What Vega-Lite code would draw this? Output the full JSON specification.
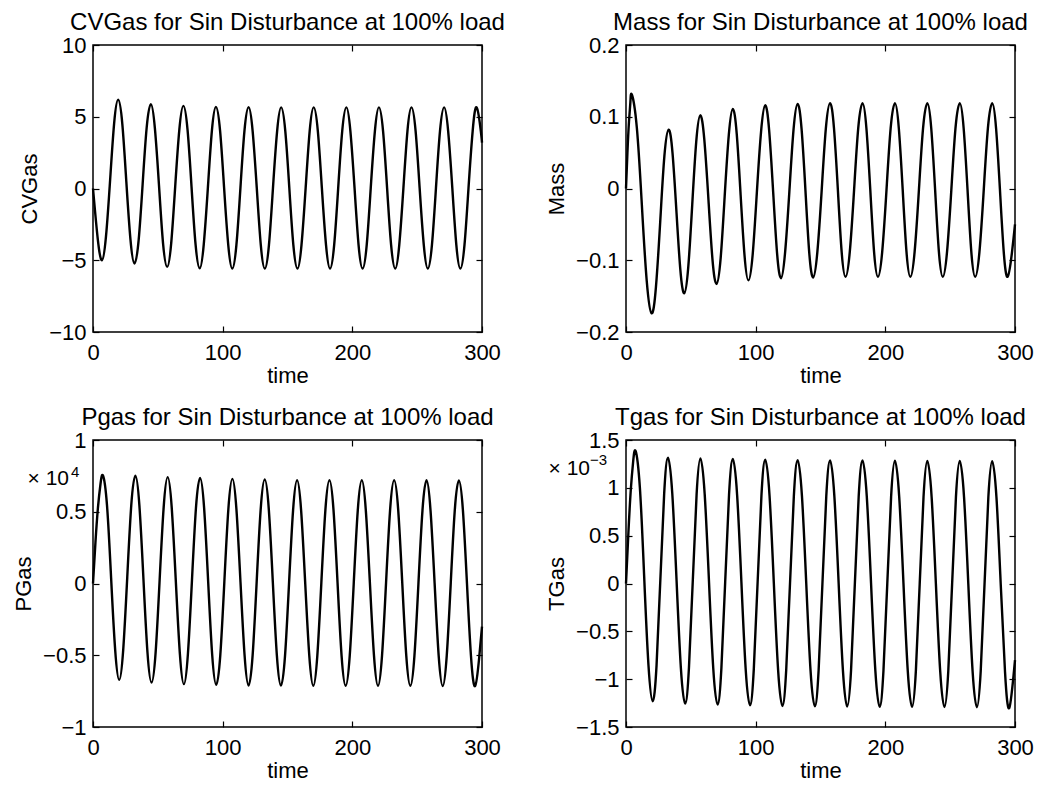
{
  "$schema": "https://vega.github.io/schema/vega-lite/v6.json",
  "background": "white",
  "autosize": {"type": "pad"},
  "padding": {"left": 11, "top": 10, "right": 5, "bottom": 3},
  "config": {
    "font": "Liberation Sans",
    "view": {"stroke": "black", "strokeWidth": 1.5},
    "axis": {"domain": false, "grid": false, "tickColor": "black", "tickSize": -6, "tickWidth": 1.2, "labelColor": "black", "labelFont": "Liberation Sans", "labelFontSize": 22, "labelFlush": false, "titleFont": "Liberation Sans", "titleFontSize": 22, "titleFontWeight": "normal", "titleColor": "black"},
    "axisBottom": {"labelPadding": 16, "titlePadding": 2},
    "axisLeft": {"labelPadding": 13, "titlePadding": 7},
    "title": {"font": "Liberation Sans", "fontSize": 24, "fontWeight": "normal", "color": "black", "offset": -1, "anchor": "middle"},
    "line": {"color": "black", "strokeWidth": 2.4, "interpolate": "natural"}
  },
  "datasets": {
    "cvgas": [{"t":0,"v":0},{"t":3.7,"v":-3.54},{"t":6.9,"v":-5.0},{"t":10.0,"v":-3.36},{"t":13.2,"v":0.59},{"t":16.3,"v":4.54},{"t":19.4,"v":6.18},{"t":22.6,"v":4.51},{"t":25.7,"v":0.48},{"t":28.9,"v":-3.56},{"t":32.0,"v":-5.23},{"t":35.2,"v":-3.60},{"t":38.3,"v":0.33},{"t":41.4,"v":4.25},{"t":44.6,"v":5.88},{"t":47.7,"v":4.22},{"t":50.9,"v":0.21},{"t":54.0,"v":-3.80},{"t":57.2,"v":-5.46},{"t":60.3,"v":-3.82},{"t":63.4,"v":0.15},{"t":66.6,"v":4.12},{"t":69.7,"v":5.76},{"t":72.9,"v":4.10},{"t":76.0,"v":0.10},{"t":79.1,"v":-3.90},{"t":82.3,"v":-5.56},{"t":85.4,"v":-3.91},{"t":88.6,"v":0.06},{"t":91.7,"v":4.03},{"t":94.8,"v":5.68},{"t":98.0,"v":4.03},{"t":101.1,"v":0.05},{"t":104.3,"v":-3.93},{"t":107.4,"v":-5.58},{"t":110.6,"v":-3.93},{"t":113.7,"v":0.04},{"t":116.8,"v":4.01},{"t":120.0,"v":5.66},{"t":123.1,"v":4.01},{"t":126.3,"v":0.04},{"t":129.4,"v":-3.93},{"t":132.5,"v":-5.58},{"t":135.7,"v":-3.93},{"t":138.8,"v":0.04},{"t":142.0,"v":4.0},{"t":145.1,"v":5.65},{"t":148.3,"v":4.0},{"t":151.4,"v":0.04},{"t":154.5,"v":-3.93},{"t":157.7,"v":-5.58},{"t":160.8,"v":-3.93},{"t":164.0,"v":0.04},{"t":167.1,"v":4.0},{"t":170.2,"v":5.65},{"t":173.4,"v":4.0},{"t":176.5,"v":0.04},{"t":179.7,"v":-3.93},{"t":182.8,"v":-5.58},{"t":186.0,"v":-3.93},{"t":189.1,"v":0.04},{"t":192.2,"v":4.0},{"t":195.4,"v":5.65},{"t":198.5,"v":4.0},{"t":201.7,"v":0.04},{"t":204.8,"v":-3.93},{"t":207.9,"v":-5.58},{"t":211.1,"v":-3.93},{"t":214.2,"v":0.04},{"t":217.4,"v":4.0},{"t":220.5,"v":5.65},{"t":223.7,"v":4.0},{"t":226.8,"v":0.04},{"t":229.9,"v":-3.93},{"t":233.1,"v":-5.58},{"t":236.2,"v":-3.93},{"t":239.4,"v":0.04},{"t":242.5,"v":4.0},{"t":245.6,"v":5.65},{"t":248.8,"v":4.0},{"t":251.9,"v":0.04},{"t":255.1,"v":-3.93},{"t":258.2,"v":-5.58},{"t":261.4,"v":-3.93},{"t":264.5,"v":0.04},{"t":267.6,"v":4.0},{"t":270.8,"v":5.65},{"t":273.9,"v":4.0},{"t":277.1,"v":0.04},{"t":280.2,"v":-3.93},{"t":283.3,"v":-5.58},{"t":286.5,"v":-3.93},{"t":289.6,"v":0.04},{"t":292.8,"v":4.0},{"t":295.9,"v":5.65},{"t":299.1,"v":4.0},{"t":300,"v":3.2}],
    "mass": [{"t":0,"v":0},{"t":1.1,"v":0.05},{"t":2.3,"v":0.093},{"t":3.4,"v":0.121},{"t":4.5,"v":0.131},{"t":8.3,"v":0.086},{"t":12.2,"v":-0.022},{"t":16.0,"v":-0.129},{"t":19.8,"v":-0.174},{"t":23.1,"v":-0.137},{"t":26.4,"v":-0.046},{"t":29.6,"v":0.045},{"t":32.9,"v":0.082},{"t":35.9,"v":0.049},{"t":38.9,"v":-0.032},{"t":41.9,"v":-0.113},{"t":44.9,"v":-0.146},{"t":48.0,"v":-0.110},{"t":51.1,"v":-0.022},{"t":54.2,"v":0.066},{"t":57.3,"v":0.102},{"t":60.4,"v":0.068},{"t":63.6,"v":-0.016},{"t":66.7,"v":-0.099},{"t":69.8,"v":-0.133},{"t":73.0,"v":-0.097},{"t":76.1,"v":-0.011},{"t":79.3,"v":0.075},{"t":82.4,"v":0.111},{"t":85.4,"v":0.076},{"t":88.4,"v":-0.009},{"t":91.4,"v":-0.093},{"t":94.4,"v":-0.128},{"t":97.7,"v":-0.092},{"t":100.9,"v":-0.006},{"t":104.2,"v":0.080},{"t":107.4,"v":0.116},{"t":110.4,"v":0.081},{"t":113.5,"v":-0.005},{"t":116.5,"v":-0.090},{"t":119.5,"v":-0.125},{"t":122.7,"v":-0.089},{"t":126.0,"v":-0.004},{"t":129.2,"v":0.082},{"t":132.4,"v":0.118},{"t":135.4,"v":0.083},{"t":138.4,"v":-0.003},{"t":141.3,"v":-0.089},{"t":144.3,"v":-0.124},{"t":147.6,"v":-0.088},{"t":150.9,"v":-0.003},{"t":154.1,"v":0.083},{"t":157.4,"v":0.119},{"t":160.4,"v":0.084},{"t":163.4,"v":-0.002},{"t":166.3,"v":-0.088},{"t":169.3,"v":-0.123},{"t":172.6,"v":-0.088},{"t":175.9,"v":-0.002},{"t":179.1,"v":0.084},{"t":182.4,"v":0.119},{"t":185.4,"v":0.084},{"t":188.4,"v":-0.002},{"t":191.3,"v":-0.088},{"t":194.3,"v":-0.123},{"t":197.6,"v":-0.088},{"t":200.9,"v":-0.002},{"t":204.1,"v":0.084},{"t":207.4,"v":0.119},{"t":210.4,"v":0.084},{"t":213.4,"v":-0.002},{"t":216.3,"v":-0.088},{"t":219.3,"v":-0.123},{"t":222.6,"v":-0.088},{"t":225.9,"v":-0.002},{"t":229.1,"v":0.084},{"t":232.4,"v":0.119},{"t":235.4,"v":0.084},{"t":238.4,"v":-0.002},{"t":241.3,"v":-0.088},{"t":244.3,"v":-0.123},{"t":247.6,"v":-0.088},{"t":250.9,"v":-0.002},{"t":254.1,"v":0.084},{"t":257.4,"v":0.119},{"t":260.4,"v":0.084},{"t":263.4,"v":-0.002},{"t":266.3,"v":-0.088},{"t":269.3,"v":-0.123},{"t":272.6,"v":-0.088},{"t":275.9,"v":-0.002},{"t":279.1,"v":0.084},{"t":282.4,"v":0.119},{"t":285.4,"v":0.084},{"t":288.4,"v":-0.002},{"t":291.3,"v":-0.088},{"t":294.3,"v":-0.123},{"t":297.6,"v":-0.09},{"t":300,"v":-0.05}],
    "pgas": [{"t":0,"v":0},{"t":1.9,"v":2880},{"t":3.85,"v":5320},{"t":5.8,"v":6950},{"t":7.7,"v":7520},{"t":10.8,"v":5440},{"t":13.95,"v":410},{"t":17.1,"v":-4620},{"t":20.2,"v":-6710},{"t":23.3,"v":-4620},{"t":26.4,"v":410},{"t":29.5,"v":5440},{"t":32.65,"v":7520},{"t":35.8,"v":5410},{"t":38.9,"v":310},{"t":42.0,"v":-4790},{"t":45.15,"v":-6900},{"t":48.3,"v":-4800},{"t":51.4,"v":260},{"t":54.5,"v":5310},{"t":57.6,"v":7410},{"t":60.7,"v":5300},{"t":63.85,"v":200},{"t":67.0,"v":-4900},{"t":70.1,"v":-7010},{"t":73.2,"v":-4900},{"t":76.3,"v":180},{"t":79.4,"v":5260},{"t":82.55,"v":7360},{"t":85.7,"v":5250},{"t":88.8,"v":150},{"t":91.9,"v":-4950},{"t":95.05,"v":-7060},{"t":98.2,"v":-4960},{"t":101.3,"v":120},{"t":104.4,"v":5190},{"t":107.5,"v":7290},{"t":110.6,"v":5180},{"t":113.75,"v":90},{"t":116.9,"v":-5000},{"t":120.0,"v":-7110},{"t":123.1,"v":-5010},{"t":126.2,"v":70},{"t":129.3,"v":5150},{"t":132.45,"v":7250},{"t":135.6,"v":5150},{"t":138.7,"v":70},{"t":141.8,"v":-5010},{"t":144.95,"v":-7120},{"t":148.1,"v":-5030},{"t":151.2,"v":40},{"t":154.3,"v":5100},{"t":157.4,"v":7200},{"t":160.5,"v":5100},{"t":163.65,"v":40},{"t":166.8,"v":-5030},{"t":169.9,"v":-7130},{"t":173.0,"v":-5030},{"t":176.1,"v":40},{"t":179.2,"v":5100},{"t":182.35,"v":7200},{"t":185.5,"v":5100},{"t":188.6,"v":40},{"t":191.7,"v":-5030},{"t":194.85,"v":-7130},{"t":198.0,"v":-5030},{"t":201.1,"v":40},{"t":204.2,"v":5100},{"t":207.3,"v":7200},{"t":210.4,"v":5100},{"t":213.55,"v":40},{"t":216.7,"v":-5030},{"t":219.8,"v":-7130},{"t":222.9,"v":-5030},{"t":226.0,"v":40},{"t":229.1,"v":5100},{"t":232.25,"v":7200},{"t":235.4,"v":5100},{"t":238.5,"v":40},{"t":241.6,"v":-5030},{"t":244.75,"v":-7130},{"t":247.9,"v":-5030},{"t":251.0,"v":40},{"t":254.1,"v":5100},{"t":257.2,"v":7190},{"t":260.3,"v":5090},{"t":263.45,"v":30},{"t":266.6,"v":-5040},{"t":269.7,"v":-7140},{"t":272.8,"v":-5040},{"t":275.9,"v":30},{"t":279.0,"v":5090},{"t":282.15,"v":7180},{"t":285.3,"v":5080},{"t":288.4,"v":20},{"t":291.5,"v":-5050},{"t":294.65,"v":-7150},{"t":297.8,"v":-5200},{"t":300,"v":-3000}],
    "tgas": [{"t":0,"v":0},{"t":1.85,"v":0.00053},{"t":3.7,"v":0.00098},{"t":5.55,"v":0.00128},{"t":7.4,"v":0.001385},{"t":10.7,"v":0.001002},{"t":14.0,"v":0.000077},{"t":17.3,"v":-0.000848},{"t":20.6,"v":-0.001231},{"t":23.55,"v":-0.000858},{"t":26.5,"v":0.000042},{"t":29.45,"v":0.000942},{"t":32.4,"v":0.001315},{"t":35.7,"v":0.000938},{"t":39.0,"v":0.00003},{"t":42.3,"v":-0.000879},{"t":45.6,"v":-0.001256},{"t":48.55,"v":-0.00088},{"t":51.5,"v":0.000026},{"t":54.45,"v":0.000932},{"t":57.4,"v":0.001308},{"t":60.7,"v":0.000931},{"t":64.0,"v":0.000021},{"t":67.3,"v":-0.000889},{"t":70.6,"v":-0.001266},{"t":73.55,"v":-0.00089},{"t":76.5,"v":0.000018},{"t":79.45,"v":0.000925},{"t":82.4,"v":0.001301},{"t":85.7,"v":0.000924},{"t":89.0,"v":0.000014},{"t":92.3,"v":-0.000896},{"t":95.6,"v":-0.001273},{"t":98.55,"v":-0.000897},{"t":101.5,"v":0.000011},{"t":104.45,"v":0.000918},{"t":107.4,"v":0.001294},{"t":110.7,"v":0.000917},{"t":114.0,"v":0.000007},{"t":117.3,"v":-0.000903},{"t":120.6,"v":-0.00128},{"t":123.55,"v":-0.000904},{"t":126.5,"v":0.000005},{"t":129.45,"v":0.000914},{"t":132.4,"v":0.00129},{"t":135.7,"v":0.000913},{"t":139.0,"v":0.000004},{"t":142.3,"v":-0.000906},{"t":145.6,"v":-0.001283},{"t":148.55,"v":-0.000907},{"t":151.5,"v":0.000002},{"t":154.45,"v":0.000911},{"t":157.4,"v":0.001287},{"t":160.7,"v":0.00091},{"t":164.0,"v":0},{"t":167.3,"v":-0.00091},{"t":170.6,"v":-0.001286},{"t":173.55,"v":-0.00091},{"t":176.5,"v":0},{"t":179.45,"v":0.000909},{"t":182.4,"v":0.001285},{"t":185.7,"v":0.000908},{"t":189.0,"v":-0.000002},{"t":192.3,"v":-0.000911},{"t":195.6,"v":-0.001288},{"t":198.55,"v":-0.000912},{"t":201.5,"v":-0.000003},{"t":204.45,"v":0.000906},{"t":207.4,"v":0.001283},{"t":210.7,"v":0.000906},{"t":214.0,"v":-0.000004},{"t":217.3,"v":-0.000913},{"t":220.6,"v":-0.00129},{"t":223.55,"v":-0.000913},{"t":226.5,"v":-0.000005},{"t":229.45,"v":0.000904},{"t":232.4,"v":0.001281},{"t":235.7,"v":0.000904},{"t":239.0,"v":-0.000006},{"t":242.3,"v":-0.000915},{"t":245.6,"v":-0.001292},{"t":248.55,"v":-0.000915},{"t":251.5,"v":-0.000006},{"t":254.45,"v":0.000903},{"t":257.4,"v":0.00128},{"t":260.7,"v":0.000903},{"t":264.0,"v":-0.000007},{"t":267.3,"v":-0.000917},{"t":270.6,"v":-0.001294},{"t":273.55,"v":-0.000917},{"t":276.5,"v":-0.000008},{"t":279.45,"v":0.000901},{"t":282.4,"v":0.001278},{"t":285.7,"v":0.0009},{"t":289.0,"v":-0.000011},{"t":292.3,"v":-0.000922},{"t":295.6,"v":-0.0013},{"t":300,"v":-0.0008}],
    "pgasExp": [{"base": "× 10", "exp": "4", "t": 0, "vbase": 6858, "vexp": 7400}],
    "tgasExp": [{"base": "× 10", "exp": "−3", "t": 0, "vbase": 0.001134, "vexp": 0.001238}]
  },
  "columns": 2,
  "bounds": "flush",
  "spacing": {"row": 108, "column": 144},
  "concat": [
    {
      "title": "CVGas for Sin Disturbance at 100% load",
      "width": 389, "height": 287,
      "data": {"name": "cvgas"},
      "layer": [
        {"mark": "line", "encoding": {
          "x": {"field": "t", "type": "quantitative", "scale": {"domain": [0, 300], "nice": false}, "axis": {"orient": "bottom", "values": [0, 100, 200, 300], "title": "time"}},
          "y": {"field": "v", "type": "quantitative", "scale": {"domain": [-10, 10], "nice": false, "zero": false}, "axis": {"orient": "left", "values": [-10, -5, 0, 5, 10], "labelExpr": "format(datum.value, '.2~f')", "title": "CVGas"}}
        }},
        {"mark": {"type": "line", "opacity": 0}, "encoding": {
          "x": {"field": "t", "type": "quantitative", "axis": {"orient": "top", "values": [0, 100, 200, 300], "labels": false, "title": null}},
          "y": {"field": "v", "type": "quantitative", "axis": {"orient": "right", "values": [-10, -5, 0, 5, 10], "labels": false, "title": null}}
        }}
      ],
      "resolve": {"axis": {"x": "independent", "y": "independent"}}
    },
    {
      "title": "Mass for Sin Disturbance at 100% load",
      "width": 389, "height": 287,
      "data": {"name": "mass"},
      "layer": [
        {"mark": "line", "encoding": {
          "x": {"field": "t", "type": "quantitative", "scale": {"domain": [0, 300], "nice": false}, "axis": {"orient": "bottom", "values": [0, 100, 200, 300], "title": "time"}},
          "y": {"field": "v", "type": "quantitative", "scale": {"domain": [-0.2, 0.2], "nice": false, "zero": false}, "axis": {"orient": "left", "values": [-0.2, -0.1, 0, 0.1, 0.2], "labelExpr": "format(datum.value, '.2~f')", "title": "Mass"}}
        }},
        {"mark": {"type": "line", "opacity": 0}, "encoding": {
          "x": {"field": "t", "type": "quantitative", "axis": {"orient": "top", "values": [0, 100, 200, 300], "labels": false, "title": null}},
          "y": {"field": "v", "type": "quantitative", "axis": {"orient": "right", "values": [-0.2, -0.1, 0, 0.1, 0.2], "labels": false, "title": null}}
        }}
      ],
      "resolve": {"axis": {"x": "independent", "y": "independent"}}
    },
    {
      "title": "Pgas for Sin Disturbance at 100% load",
      "width": 389, "height": 287,
      "layer": [
        {"data": {"name": "pgas"}, "mark": "line", "encoding": {
          "x": {"field": "t", "type": "quantitative", "scale": {"domain": [0, 300], "nice": false}, "axis": {"orient": "bottom", "values": [0, 100, 200, 300], "title": "time"}},
          "y": {"field": "v", "type": "quantitative", "scale": {"domain": [-10000, 10000], "nice": false, "zero": false}, "axis": {"orient": "left", "values": [-10000, -5000, 0, 5000, 10000], "labelExpr": "format(datum.value / 10000, '.2~f')", "title": "PGas"}}
        }},
        {"data": {"name": "pgas"}, "mark": {"type": "line", "opacity": 0}, "encoding": {
          "x": {"field": "t", "type": "quantitative", "axis": {"orient": "top", "values": [0, 100, 200, 300], "labels": false, "title": null}},
          "y": {"field": "v", "type": "quantitative", "axis": {"orient": "right", "values": [-10000, -5000, 0, 5000, 10000], "labels": false, "title": null}}
        }},
        {"data": {"name": "pgasExp"}, "mark": {"type": "text", "align": "right", "baseline": "alphabetic", "dx": -24, "fontSize": 21, "font": "Liberation Sans", "color": "black"}, "encoding": {
          "x": {"field": "t", "type": "quantitative", "axis": null},
          "y": {"field": "vbase", "type": "quantitative", "axis": null},
          "text": {"field": "base"}
        }},
        {"data": {"name": "pgasExp"}, "mark": {"type": "text", "align": "left", "baseline": "alphabetic", "dx": -22, "fontSize": 15, "font": "Liberation Sans", "color": "black"}, "encoding": {
          "x": {"field": "t", "type": "quantitative", "axis": null},
          "y": {"field": "vexp", "type": "quantitative", "axis": null},
          "text": {"field": "exp"}
        }}
      ],
      "resolve": {"axis": {"x": "independent", "y": "independent"}}
    },
    {
      "title": "Tgas for Sin Disturbance at 100% load",
      "width": 389, "height": 287,
      "layer": [
        {"data": {"name": "tgas"}, "mark": "line", "encoding": {
          "x": {"field": "t", "type": "quantitative", "scale": {"domain": [0, 300], "nice": false}, "axis": {"orient": "bottom", "values": [0, 100, 200, 300], "title": "time"}},
          "y": {"field": "v", "type": "quantitative", "scale": {"domain": [-0.0015, 0.0015], "nice": false, "zero": false}, "axis": {"orient": "left", "values": [-0.0015, -0.001, -0.0005, 0, 0.0005, 0.001, 0.0015], "labelExpr": "format(datum.value * 1000, '.2~f')", "title": "TGas"}}
        }},
        {"data": {"name": "tgas"}, "mark": {"type": "line", "opacity": 0}, "encoding": {
          "x": {"field": "t", "type": "quantitative", "axis": {"orient": "top", "values": [0, 100, 200, 300], "labels": false, "title": null}},
          "y": {"field": "v", "type": "quantitative", "axis": {"orient": "right", "values": [-0.0015, -0.001, -0.0005, 0, 0.0005, 0.001, 0.0015], "labels": false, "title": null}}
        }},
        {"data": {"name": "tgasExp"}, "mark": {"type": "text", "align": "right", "baseline": "alphabetic", "dx": -36, "fontSize": 21, "font": "Liberation Sans", "color": "black"}, "encoding": {
          "x": {"field": "t", "type": "quantitative", "axis": null},
          "y": {"field": "vbase", "type": "quantitative", "axis": null},
          "text": {"field": "base"}
        }},
        {"data": {"name": "tgasExp"}, "mark": {"type": "text", "align": "left", "baseline": "alphabetic", "dx": -36, "fontSize": 15, "font": "Liberation Sans", "color": "black"}, "encoding": {
          "x": {"field": "t", "type": "quantitative", "axis": null},
          "y": {"field": "vexp", "type": "quantitative", "axis": null},
          "text": {"field": "exp"}
        }}
      ],
      "resolve": {"axis": {"x": "independent", "y": "independent"}}
    }
  ]
}
